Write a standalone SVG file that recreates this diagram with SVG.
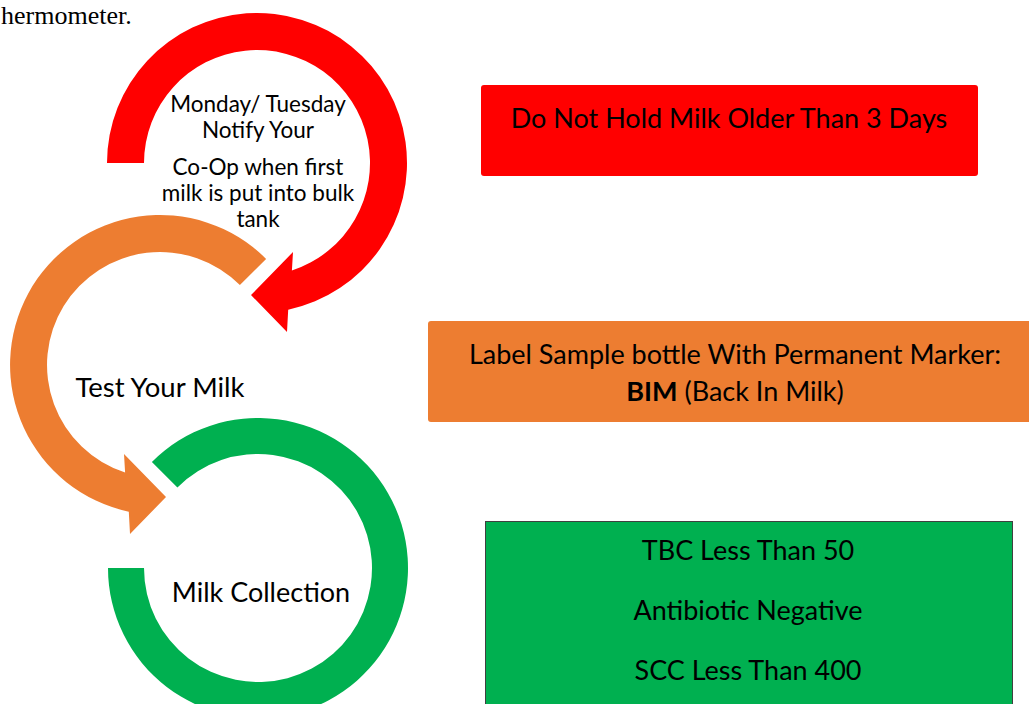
<svg xmlns="http://www.w3.org/2000/svg" width="1029" height="704" viewBox="0 0 1029 704">
  <style>
    .lbl { font-family: Lato, "Open Sans", "Liberation Sans", sans-serif; fill: #000; text-anchor: middle; }
    .s1 { font-size: 22.5px; }
    .s2 { font-size: 27.5px; }
    .s2b { font-size: 27px; }
    .s3 { font-size: 27px; }
    .serif { font-family: "Liberation Serif", "Times New Roman", serif; font-size: 26px; fill: #000; }
  </style>
  <rect x="0" y="0" width="1029" height="704" fill="#ffffff"/>
  <text class="serif" x="1" y="24">hermometer.</text>

  <g id="connectors">
    <path id="arrow-red" fill="#FF0000" d="M 107 163 A 150 150 0 1 1 288.2 309.7 L 287 332 L 251 295 L 293 252 L 291.9 270.5 A 113 113 0 1 0 144 163 Z"/>
    <path id="arrow-orange" fill="#ED7D31" d="M 266.1 258.9 A 150 150 0 1 0 128.8 511.7 L 130 534 L 166 497 L 124 454 L 125.1 472.5 A 113 113 0 1 1 239.9 285.1 Z"/>
    <path id="arc-green" fill="#00B050" d="M 151.9 461.9 A 150 150 0 1 1 108 568 L 144 568 A 114 114 0 1 0 177.4 487.4 Z"/>
  </g>

  <g id="node-notify">
    <text class="lbl s1" x="258" y="112">Monday/ Tuesday</text>
    <text class="lbl s1" x="258" y="138">Notify Your</text>
    <text class="lbl s1" x="258" y="175">Co-Op when first</text>
    <text class="lbl s1" x="258" y="201">milk is put into bulk</text>
    <text class="lbl s1" x="258" y="227">tank</text>
  </g>

  <g id="node-test">
    <text class="lbl s2" x="160" y="397">Test Your Milk</text>
  </g>

  <g id="node-collection">
    <text class="lbl s2b" x="261" y="602">Milk Collection</text>
  </g>

  <g id="box-hold">
    <rect x="481" y="85" width="497" height="91" rx="3" fill="#FF0000"/>
    <text class="lbl s3" x="729" y="128">Do Not Hold Milk Older Than 3 Days</text>
  </g>

  <g id="box-label">
    <rect x="428" y="321" width="614" height="101" rx="3" fill="#ED7D31"/>
    <text class="lbl s3" x="735" y="364">Label Sample bottle With Permanent Marker:</text>
    <text class="lbl s3" x="735" y="401"><tspan font-weight="bold">BIM</tspan> (Back In Milk)</text>
  </g>

  <g id="box-results">
    <rect x="485.5" y="521.5" width="527" height="200" fill="#00B050" stroke="#404040" stroke-width="1"/>
    <text class="lbl s3" x="748" y="560">TBC Less Than 50</text>
    <text class="lbl s3" x="748" y="620">Antibiotic Negative</text>
    <text class="lbl s3" x="748" y="680">SCC Less Than 400</text>
  </g>
</svg>
